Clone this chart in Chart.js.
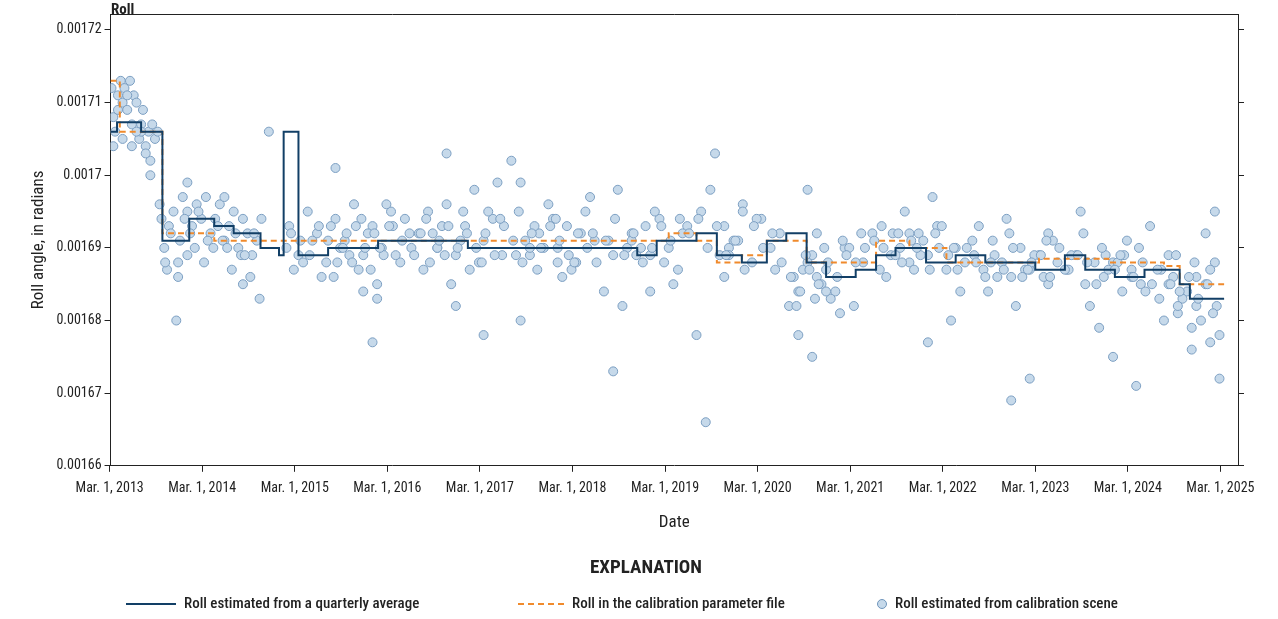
<!DOCTYPE html>
<html><head><meta charset="utf-8">
<script src="https://cdn.jsdelivr.net/npm/chart.js@4"></script>
<style>body{margin:0;background:#fff}</style>
</head><body>
<div style="position:relative;width:1278px;height:619px"><canvas id="c" width="1278" height="619"></canvas></div>
<script>
const tickYears=[2013,2014,2015,2016,2017,2018,2019,2020,2021,2022,2023,2024,2025];
const yTicks=[0.00166,0.00167,0.00168,0.00169,0.0017,0.00171,0.00172];
const quarterX=[2013.17,2013.24,2013.50,2013.73,2014.02,2014.29,2014.50,2014.79,2014.99,2015.04,2015.20,2015.52,2015.85,2016.06,2016.60,2017.03,2017.46,2018.0,2018.54,2018.86,2019.07,2019.50,2019.72,2019.99,2020.26,2020.47,2020.69,2020.90,2021.22,2021.44,2021.65,2021.98,2022.30,2022.62,2022.84,2023.16,2023.48,2023.70,2024.02,2024.34,2024.72,2024.83,2025.20];
const quarterY=[0.001706,0.0017073,0.001706,0.001691,0.001694,0.001693,0.001692,0.00169,0.001689,0.001706,0.001689,0.00169,0.00169,0.001691,0.001691,0.00169,0.00169,0.00169,0.00169,0.001689,0.001691,0.001692,0.001689,0.001688,0.001691,0.001692,0.001688,0.001686,0.001687,0.001689,0.00169,0.001688,0.001689,0.001688,0.001688,0.001687,0.001689,0.001687,0.001686,0.001687,0.001685,0.001683,0.001683];
const calX=[2013.17,2013.27,2013.73,2014.29,2019.2,2019.5,2019.72,2019.99,2020.26,2020.69,2021.44,2021.8,2022.2,2023.2,2023.95,2024.55,2024.72,2025.2];
const calY=[0.001713,0.001706,0.001692,0.001691,0.001692,0.001691,0.001688,0.001689,0.001691,0.001688,0.001691,0.00169,0.001688,0.0016885,0.001688,0.0016875,0.001685,0.001685];
const sceneX=[2013.18,2013.2,2013.22,2013.25,2013.28,2013.3,2013.32,2013.35,2013.38,2013.4,2013.42,2013.45,2013.48,2013.5,2013.52,2013.55,2013.58,2013.6,2013.62,2013.65,2013.2,2013.3,2013.4,2013.5,2013.6,2013.25,2013.35,2013.45,2013.55,2013.68,2013.7,2013.72,2013.75,2013.78,2013.8,2013.85,2013.9,2013.95,2014.0,2014.05,2014.1,2014.15,2014.2,2014.25,2014.3,2014.35,2014.4,2014.45,2014.5,2014.55,2014.6,2014.65,2014.7,2014.75,2014.8,2013.76,2013.82,2013.9,2014.0,2014.08,2014.18,2014.28,2014.38,2014.48,2014.58,2014.68,2014.78,2014.0,2014.4,2014.6,2013.88,2014.88,2015.1,2015.2,2015.3,2015.4,2015.5,2015.6,2015.7,2015.8,2015.9,2016.0,2016.1,2016.2,2016.3,2016.4,2015.15,2015.35,2015.55,2015.75,2015.95,2016.15,2016.35,2015.25,2015.45,2015.65,2015.85,2016.05,2016.25,2015.6,2015.9,2016.0,2016.05,2016.5,2016.6,2016.7,2016.8,2016.9,2017.0,2017.1,2017.2,2017.3,2017.4,2016.55,2016.75,2016.95,2017.15,2017.35,2016.65,2016.85,2017.05,2017.25,2016.7,2016.8,2017.2,2016.9,2017.5,2017.6,2017.7,2017.8,2017.9,2018.0,2018.1,2018.2,2018.3,2018.4,2017.55,2017.75,2017.95,2018.15,2018.35,2017.65,2017.85,2018.05,2018.25,2017.7,2018.0,2017.6,2018.5,2018.6,2018.7,2018.8,2018.9,2019.0,2019.1,2019.2,2019.3,2019.4,2018.55,2018.75,2018.95,2019.15,2019.35,2018.65,2018.85,2019.05,2019.25,2018.6,2018.8,2019.0,2019.5,2019.6,2019.7,2019.8,2019.9,2020.0,2020.1,2020.2,2020.3,2020.4,2019.55,2019.75,2019.95,2020.15,2020.35,2019.65,2019.85,2019.8,2019.85,2020.0,2020.5,2020.6,2020.7,2020.8,2020.9,2021.0,2021.1,2021.2,2021.3,2021.4,2020.55,2020.65,2020.75,2020.85,2020.95,2021.05,2021.15,2020.7,2020.8,2020.9,2020.75,2020.6,2021.5,2021.6,2021.7,2021.8,2021.9,2022.0,2022.1,2022.2,2022.3,2022.4,2021.55,2021.75,2021.95,2022.15,2022.35,2021.65,2021.85,2022.05,2022.25,2021.8,2022.0,2022.5,2022.6,2022.7,2022.8,2022.9,2023.0,2023.1,2023.2,2023.3,2023.4,2022.55,2022.75,2022.95,2023.15,2023.35,2022.65,2022.85,2023.05,2023.25,2022.9,2023.1,2023.3,2023.5,2023.6,2023.7,2023.8,2023.9,2024.0,2024.1,2024.2,2024.3,2024.4,2023.55,2023.75,2023.95,2024.15,2024.35,2023.65,2023.85,2024.05,2024.25,2024.0,2024.2,2024.5,2024.6,2024.7,2024.8,2024.9,2025.0,2025.1,2024.55,2024.65,2024.75,2024.85,2024.95,2025.05,2025.15,2024.7,2024.85,2025.0,2025.1,2024.6,2024.9,2025.05,2025.15];
const sceneY=[0.001712,0.001708,0.001706,0.001711,0.001713,0.00171,0.001712,0.001709,0.001713,0.001707,0.001711,0.00171,0.001705,0.001707,0.001709,0.001704,0.001706,0.001702,0.001707,0.001705,0.001704,0.001705,0.001704,0.001706,0.001700,0.001709,0.001711,0.001706,0.001703,0.001706,0.001696,0.001694,0.00169,0.001687,0.001693,0.001695,0.001688,0.001697,0.001695,0.001693,0.001696,0.001694,0.001697,0.001692,0.001694,0.001696,0.001691,0.001693,0.001695,0.00169,0.001694,0.001692,0.001689,0.001691,0.001694,0.001688,0.001692,0.001686,0.001689,0.00169,0.001688,0.00169,0.001691,0.001687,0.001689,0.001686,0.001683,0.001699,0.001697,0.001685,0.00168,0.001706,0.001693,0.001689,0.001695,0.001692,0.001688,0.001694,0.001691,0.001696,0.001689,0.001693,0.00169,0.001695,0.001688,0.001692,0.001687,0.001691,0.001693,0.001689,0.001692,0.001696,0.001694,0.001688,0.001686,0.00169,0.001687,0.001685,0.001689,0.001701,0.001684,0.001677,0.001683,0.001692,0.001695,0.00169,0.001696,0.001689,0.001693,0.001698,0.001691,0.001694,0.001689,0.001687,0.001693,0.001691,0.001688,0.001699,0.001692,0.001685,0.001687,0.001695,0.00169,0.001703,0.001678,0.001682,0.001702,0.00168,0.001689,0.001692,0.001696,0.00169,0.001693,0.001688,0.001695,0.001691,0.001689,0.001693,0.001694,0.001687,0.001697,0.001691,0.00169,0.001686,0.001692,0.00169,0.001688,0.001699,0.001684,0.001673,0.001682,0.001692,0.00169,0.001689,0.001694,0.00169,0.001687,0.001693,0.001691,0.00169,0.001693,0.001688,0.001692,0.001698,0.001689,0.001695,0.001685,0.001689,0.001691,0.001684,0.001678,0.001666,0.001703,0.001693,0.001691,0.001696,0.001688,0.001694,0.00169,0.001692,0.001695,0.001689,0.001691,0.001694,0.001687,0.001698,0.00169,0.001686,0.001689,0.001695,0.001682,0.001684,0.001698,0.001692,0.001687,0.001684,0.00169,0.001682,0.001688,0.001692,0.001686,0.001687,0.001689,0.001685,0.001683,0.001681,0.00169,0.001688,0.001686,0.001684,0.001675,0.001678,0.001693,0.001689,0.00169,0.001688,0.001692,0.001689,0.001693,0.001687,0.00169,0.001688,0.001686,0.001695,0.001691,0.001693,0.001684,0.001689,0.001687,0.001697,0.00168,0.001692,0.001677,0.001689,0.001687,0.001691,0.001688,0.001686,0.00169,0.001687,0.001689,0.001685,0.001688,0.001693,0.001686,0.001682,0.001689,0.001691,0.001684,0.001694,0.001687,0.001686,0.001669,0.001672,0.001692,0.001687,0.001689,0.001685,0.001688,0.001686,0.001688,0.001684,0.001687,0.001685,0.001693,0.001689,0.001682,0.001687,0.001691,0.001684,0.001695,0.001679,0.001688,0.001671,0.001675,0.001686,0.001683,0.001685,0.001681,0.001684,0.001682,0.001685,0.001688,0.00168,0.001686,0.001683,0.001679,0.00168,0.001687,0.001678,0.001682,0.001676,0.001692,0.001695,0.001689,0.001686,0.001677,0.001672];
const extraX=[2013.92,2013.97,2014.03,2014.12,2014.22,2014.33,2014.43,2014.52,2014.62,2014.72,2015.07,2015.12,2015.22,2015.32,2015.42,2015.52,2015.62,2015.72,2015.82,2015.92,2016.02,2016.12,2016.22,2016.32,2016.42,2015.58,2015.68,2015.78,2015.88,2015.98,2016.08,2016.18,2016.45,2016.52,2016.62,2016.72,2016.82,2016.92,2017.02,2017.12,2017.22,2017.32,2017.42,2017.52,2017.62,2017.72,2017.82,2017.92,2018.02,2018.12,2018.22,2018.32,2018.42,2016.58,2016.78,2016.98,2017.18,2017.38,2017.58,2017.78,2017.98,2018.18,2018.38,2018.52,2018.62,2018.72,2018.82,2018.92,2019.02,2019.12,2019.22,2019.32,2019.42,2019.52,2019.62,2019.72,2019.82,2019.92,2020.02,2020.12,2020.22,2020.32,2020.42,2020.52,2020.62,2020.72,2020.82,2020.92,2021.02,2021.12,2021.22,2021.32,2021.42,2021.52,2021.62,2021.72,2021.82,2021.92,2022.02,2022.12,2022.22,2022.32,2022.42,2022.52,2022.62,2022.72,2022.82,2022.92,2023.02,2023.12,2023.22,2023.32,2023.42,2023.52,2023.62,2023.72,2023.82,2023.92,2024.02,2024.12,2024.22,2024.32,2024.42,2024.52,2024.62,2024.72,2024.82,2024.92,2025.02,2025.12,2020.58,2020.68,2020.78,2020.88,2021.08,2021.28,2021.48,2021.68,2021.88,2022.08,2022.28,2022.48,2022.68,2022.88,2023.08,2023.28,2023.48,2023.68,2023.88,2024.08,2024.28,2024.48,2024.68,2024.88,2025.08];
const extraY=[0.001691,0.001694,0.001692,0.001695,0.001691,0.001693,0.00169,0.001692,0.001689,0.001692,0.00169,0.001692,0.001691,0.001689,0.001693,0.001691,0.001688,0.001692,0.001693,0.00169,0.001692,0.001689,0.001693,0.001691,0.00169,0.001686,0.00169,0.001688,0.001694,0.001687,0.00169,0.001693,0.001689,0.001692,0.001688,0.001691,0.001693,0.00169,0.001692,0.00169,0.001692,0.001689,0.001693,0.001691,0.001688,0.001692,0.00169,0.001693,0.001691,0.001689,0.001692,0.00169,0.001688,0.001694,0.001689,0.001695,0.001688,0.001694,0.001695,0.001687,0.001694,0.001688,0.001692,0.001691,0.001694,0.001689,0.001692,0.001688,0.00169,0.001693,0.001691,0.001694,0.001692,0.001694,0.00169,0.001693,0.001689,0.001691,0.001687,0.001693,0.00169,0.001692,0.001688,0.001686,0.001684,0.001687,0.001685,0.001688,0.001686,0.001689,0.001688,0.00169,0.001691,0.00169,0.001692,0.001688,0.001691,0.001689,0.001687,0.00169,0.001689,0.001687,0.00169,0.001688,0.001686,0.001689,0.001687,0.00169,0.001686,0.001688,0.001689,0.001686,0.00169,0.001687,0.001689,0.001688,0.001685,0.001689,0.001687,0.001689,0.001686,0.001688,0.001685,0.001687,0.001685,0.001684,0.001686,0.001683,0.001685,0.001682,0.001682,0.001689,0.001683,0.00169,0.001691,0.001692,0.001687,0.001692,0.00169,0.001692,0.00169,0.001691,0.001688,0.001692,0.001687,0.001691,0.001687,0.001692,0.00169,0.001689,0.00169,0.001687,0.001689,0.001688,0.001681,0.001687];
const scene=sceneX.map((x,i)=>({x,y:sceneY[i]})).concat(extraX.map((x,i)=>({x,y:extraY[i]})));
const quarter=quarterX.map((x,i)=>({x,y:quarterY[i]}));
const cal=calX.map((x,i)=>({x,y:calY[i]}));
const F='"Roboto Condensed","Liberation Sans Narrow",Roboto,sans-serif';
const legendPlugin={id:'leg',afterDraw(ch){const c=ch.ctx;c.save();c.fillStyle='#222';
c.font='bold 19px '+F;c.textAlign='center';c.fillText('EXPLANATION',646,573);
c.font='500 15px '+F;c.textAlign='left';c.textBaseline='middle';
c.strokeStyle='#123f66';c.lineWidth=2;c.beginPath();c.moveTo(126,604);c.lineTo(176,604);c.stroke();
c.fillText('Roll estimated from a quarterly average',184,604);
c.strokeStyle='#f08a2c';c.setLineDash([6,4]);c.beginPath();c.moveTo(518,604);c.lineTo(566,604);c.stroke();c.setLineDash([]);
c.fillText('Roll in the calibration parameter file',572,604);
c.fillStyle='#c6d9ea';c.strokeStyle='#6f95bb';c.lineWidth=1;c.beginPath();c.arc(882,604,4.5,0,7);c.fill();c.stroke();
c.fillStyle='#222';c.fillText('Roll estimated from calibration scene',895,604);
c.font='bold 15px '+F;c.textBaseline='alphabetic';c.fillText('Roll',111,14);c.restore();}};
new Chart(document.getElementById('c'),{
data:{datasets:[
{type:'line',data:quarter,stepped:'before',borderColor:'#123f66',borderWidth:2,pointRadius:0,order:1},
{type:'line',data:cal,stepped:'before',borderColor:'#f08a2c',borderDash:[6,4],borderWidth:2,pointRadius:0,order:2},
{type:'scatter',data:scene,pointRadius:4.5,backgroundColor:'#c6d9ea',borderColor:'#7c9fc2',borderWidth:1,order:3}]},
options:{responsive:false,animation:false,layout:{padding:{left:25,right:34,top:14,bottom:82}},
plugins:{legend:{display:false},tooltip:{enabled:false}},
scales:{
x:{type:'linear',min:2013.17,max:2025.35,afterBuildTicks(a){a.ticks=tickYears.map(v=>({value:v+0.16}));},
ticks:{callback:v=>'Mar. 1, '+Math.round(v-0.16),font:{family:F,size:14},color:'#222',maxRotation:0,padding:8},
grid:{drawOnChartArea:false,tickLength:6,color:'#222'},border:{color:'#222'},
title:{display:true,text:'Date',font:{family:F,size:17},color:'#222',padding:{top:8}}},
y:{min:0.00166,max:0.0017222,afterBuildTicks(a){a.ticks=yTicks.map(v=>({value:v}));},
ticks:{callback:v=>String(+v.toFixed(5)),font:{family:F,size:14},color:'#222'},
grid:{drawOnChartArea:false,tickLength:6,color:'#222'},border:{color:'#222'},
title:{display:true,text:'Roll angle, in radians',font:{family:F,size:17},color:'#222'}},
y2:{position:'right',min:0.00166,max:0.0017222,afterBuildTicks(a){a.ticks=yTicks.map(v=>({value:v}));},ticks:{display:false},grid:{drawOnChartArea:false,tickLength:6,color:'#222'},border:{color:'#222'}}
}},plugins:[legendPlugin,{id:'top',afterDraw(ch){const a=ch.chartArea,c=ch.ctx;c.save();c.strokeStyle='#222';c.lineWidth=1;c.beginPath();c.moveTo(a.left,a.top+0.5);c.lineTo(a.right,a.top+0.5);c.stroke();c.restore();}}]});
</script></body></html>
